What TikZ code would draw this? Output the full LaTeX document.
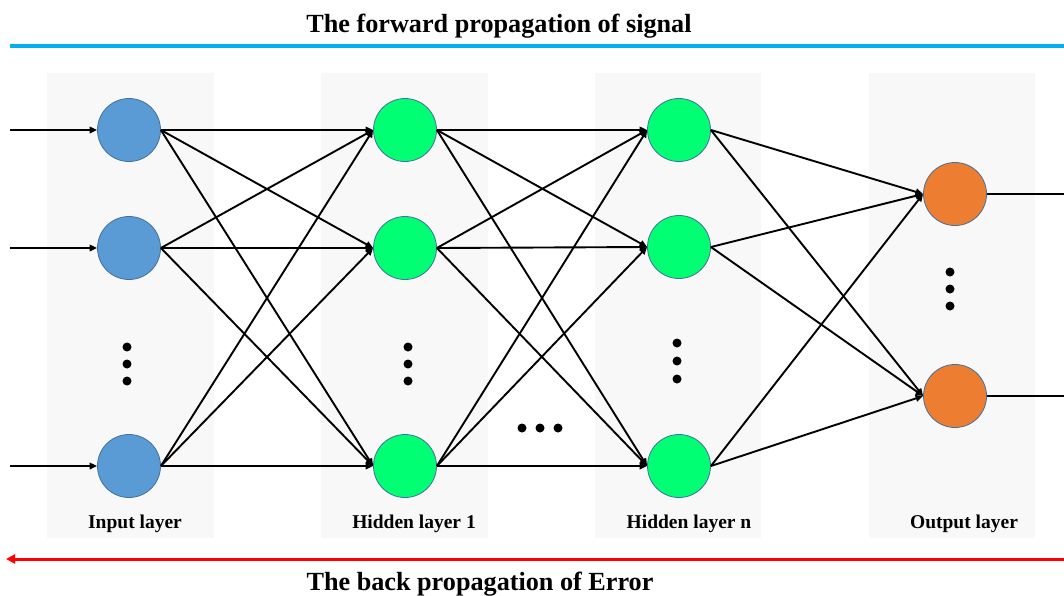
\documentclass[tikz,border=0pt]{standalone}
\usepackage{fontspec}
\setmainfont{Liberation Serif}
\usetikzlibrary{arrows.meta}
\definecolor{inblue}{HTML}{5B9BD5}
\definecolor{hidgreen}{HTML}{00FF73}
\definecolor{outorange}{HTML}{ED7D31}
\definecolor{rimblue}{HTML}{41719C}
\definecolor{panelgray}{HTML}{F8F8F8}
\definecolor{lineblue}{HTML}{00B0F0}
\definecolor{linered}{HTML}{FF0000}
\tikzset{
  neuron/.style={circle, minimum size=63pt, inner sep=0pt, draw=rimblue, line width=0.8pt},
  inneuron/.style={neuron, fill=inblue},
  hidneuron/.style={neuron, fill=hidgreen},
  outneuron/.style={neuron, fill=outorange},
  panel/.style={fill=panelgray, draw=none},
  conn/.style={-{Triangle[length=7.5pt,width=6.5pt]}, line width=1.9pt, black},
  plainline/.style={line width=1.9pt, black},
  vdot/.style={circle, fill=black, inner sep=0pt, minimum size=9pt},
  layerlabel/.style={font=\fontsize{19.5}{22}\selectfont\bfseries, inner sep=0pt},
  titlelabel/.style={font=\fontsize{26.2}{30}\selectfont\bfseries, inner sep=0pt}
}
\begin{document}
\begin{tikzpicture}[x=1pt,y=-1pt]
\useasboundingbox (0,0) rectangle (1064,595);
% panels
\fill[panel] (47,73) rectangle (214,538);
\fill[panel] (321,73) rectangle (488,538);
\fill[panel] (595,73) rectangle (761,538);
\fill[panel] (869,73) rectangle (1035,538);
% titles and lines
\node[titlelabel] (ftitle) at (499,26) {The forward propagation of signal};
\node[titlelabel] (btitle) at (480,584) {The back propagation of Error};
\coordinate (bl) at (10,46);
\coordinate (br) at (1064,46);
\draw[line width=4pt, lineblue] (bl) -- (br);
\coordinate (rl) at (6,559);
\coordinate (rr) at (1064,559);
\draw[line width=3pt, linered, -{Triangle[length=9pt,width=9pt]}] (rr) -- (rl);
% neurons
\node[inneuron] (i1) at (129,130) {};
\node[inneuron] (i2) at (129,248) {};
\node[inneuron] (i3) at (129,466) {};
\node[hidneuron] (h1) at (405,130) {};
\node[hidneuron] (h2) at (405,248) {};
\node[hidneuron] (h3) at (405,466) {};
\node[hidneuron] (n1) at (679,130) {};
\node[hidneuron] (n2) at (679,247) {};
\node[hidneuron] (n3) at (679,466) {};
\node[outneuron] (o1) at (955,194) {};
\node[outneuron] (o2) at (955,396) {};
% inputs
\coordinate (x1) at (10,130);
\coordinate (x2) at (10,248);
\coordinate (x3) at (10,466);
\foreach \k in {1,2,3} {\draw[conn] (x\k) -- (i\k.west);}
% outputs
\coordinate (y1) at (1064,194);
\coordinate (y2) at (1064,396);
\draw[plainline] (o1.east) -- (y1);
\draw[plainline] (o2.east) -- (y2);
% connections
\foreach \a in {1,2,3} {
  \foreach \b in {1,2,3} {
    \draw[conn] (i\a.east) -- (h\b.west);
    \draw[conn] (h\a.east) -- (n\b.west);
  }
  \foreach \b in {1,2} {
    \draw[conn] (n\a.east) -- (o\b.west);
  }
}
% dots
\node[vdot] (d1) at (127,347) {};
\node[vdot] (d2) at (127,364) {};
\node[vdot] (d3) at (127,381) {};
\node[vdot] (d4) at (408,347) {};
\node[vdot] (d5) at (408,364) {};
\node[vdot] (d6) at (408,381) {};
\node[vdot] (d7) at (677,343) {};
\node[vdot] (d8) at (677,361) {};
\node[vdot] (d9) at (677,379) {};
\node[vdot] (d10) at (950,272) {};
\node[vdot] (d11) at (950,289) {};
\node[vdot] (d12) at (950,306) {};
\node[vdot] (d13) at (522,428) {};
\node[vdot] (d14) at (540,428) {};
\node[vdot] (d15) at (558,428) {};
% labels
\node[layerlabel] (l1) at (135,524) {Input layer};
\node[layerlabel] (l2) at (414,524) {Hidden layer 1};
\node[layerlabel] (l3) at (689,524) {Hidden layer n};
\node[layerlabel] (l4) at (964,524) {Output layer};
\end{tikzpicture}
\end{document}
